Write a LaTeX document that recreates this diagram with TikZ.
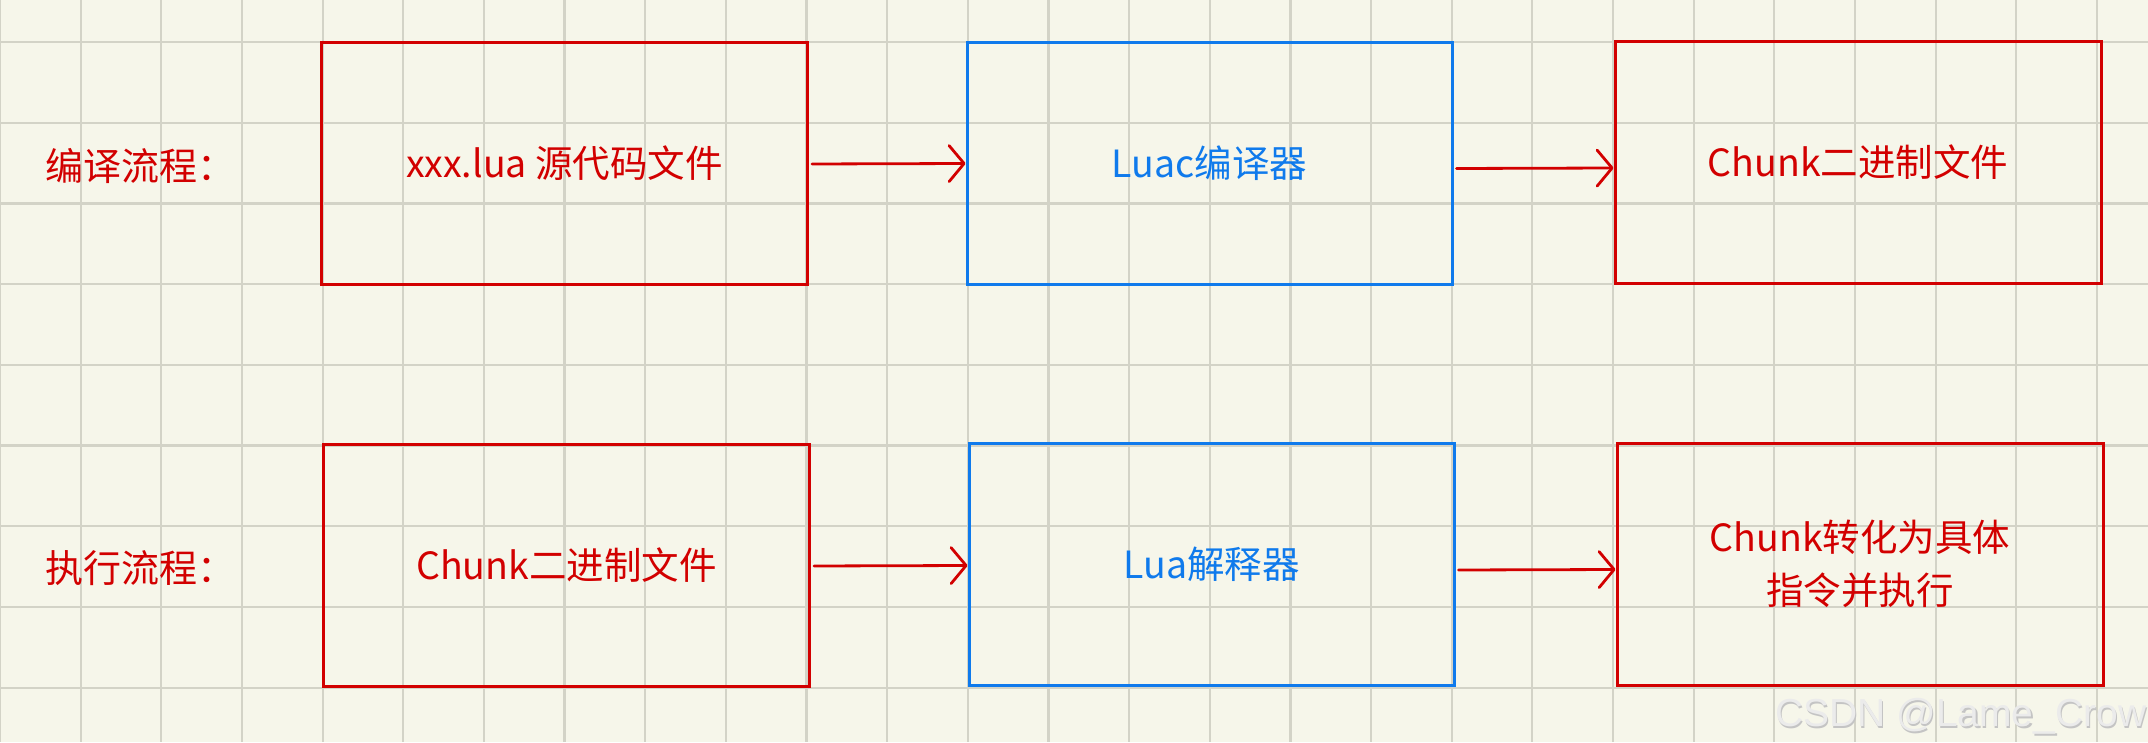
\documentclass[tikz,border=0pt]{standalone}
\usepackage{fontspec}
\newfontfamily\cjk{Noto Sans CJK SC}
\newfontfamily\wmfont{Liberation Sans}
\usetikzlibrary{arrows.meta}
\definecolor{bg}{HTML}{F6F6EA}
\definecolor{gridc}{HTML}{D3D3C7}
\definecolor{redc}{HTML}{D20000}
\definecolor{bluec}{HTML}{0F7AEC}
\definecolor{wmlight}{HTML}{EBEBEB}
\definecolor{wmdark}{HTML}{C4C4C4}
\begin{document}
\begin{tikzpicture}[x=1pt,y=-1pt,
  gridline/.style={gridc, line width=2.2pt},
  box/.style={draw, line width=3pt, minimum width=#1, minimum height=242pt, inner sep=0pt, font=\cjk\fontsize{37.5}{53}\selectfont, align=center},
  redbox/.style={box=486pt, draw=redc, text=redc},
  bluebox/.style={box=485pt, draw=bluec, text=bluec},
  lab/.style={anchor=west, text=redc, inner sep=0pt, font=\cjk\fontsize{38}{44}\selectfont},
  conn/.style={redc, line width=2.8pt, line cap=round, shorten <=3pt, -{Straight Barb[length=15pt,width=36pt,line width=2.8pt,round]}},
]
\fill[bg] (0,0) rectangle (2148,742);
\useasboundingbox (0,0) rectangle (2148,742);
\foreach \i in {0,...,26} \draw[gridline] ({\i*80.65},0) -- ({\i*80.65},742);
\foreach \j in {0,...,8} \draw[gridline] (0,{42+\j*80.7}) -- (2148,{42+\j*80.7});

\node[redbox]  (b1) at (564.5,163.5) {xxx.lua 源代码文件};
\node[bluebox] (b2) at (1209.5,163) {Luac编译器};
\node[redbox]  (b3) at (1858,162.5) {Chunk二进制文件};
\node[redbox]  (b4) at (566.5,565) {Chunk二进制文件};
\node[bluebox] (b5) at (1211.5,564.5) {Lua解释器};
\node[redbox]  (b6) at (1860,564) {Chunk转化为具体\\指令并执行};

\node[lab] (l1) at (45,166) {编译流程：};
\node[lab] (l2) at (45,568) {执行流程：};

\draw[conn] ([yshift=-0.5pt]b1.east) -- ([yshift=-0.5pt]b2.west);
\draw[conn] ([yshift=-5.5pt]b2.east) -- ([yshift=-5.5pt]b3.west);
\draw[conn] ([yshift=-1pt]b4.east) -- ([yshift=-1pt]b5.west);
\draw[conn] ([yshift=-5.5pt]b5.east) -- ([yshift=-5.5pt]b6.west);

\node[anchor=east, inner sep=0pt, text=wmdark, font=\wmfont\fontsize{39}{44}\selectfont] (wms) at (2148,718) {CSDN @Lame\_Crow};
\node[anchor=east, inner sep=0pt, text=wmlight, font=\wmfont\fontsize{39}{44}\selectfont] (wm) at (2146.5,716.5) {CSDN @Lame\_Crow};
\end{tikzpicture}
\end{document}
